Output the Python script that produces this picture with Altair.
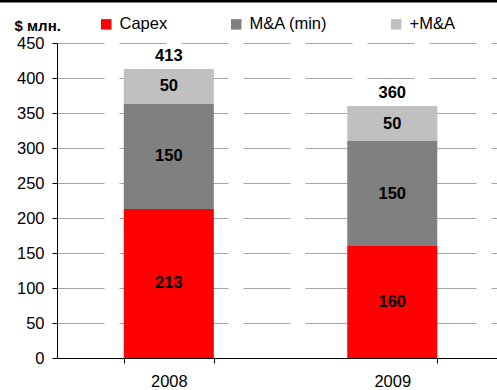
import altair as alt
import pandas as pd

years = ["2008", "2008", "2008", "2009", "2009", "2009"]
series = ["Capex", "M&A (min)", "+M&A", "Capex", "M&A (min)", "+M&A"]
values = [213, 150, 50, 160, 150, 50]
orders = [0, 1, 2, 0, 1, 2]

tot_years = ["2008", "2009"]
totals = [413, 360]

series_domain = ["Capex", "M&A (min)", "+M&A"]
series_colors = ["#FF0000", "#808080", "#C0C0C0"]
y_ticks = [0, 50, 100, 150, 200, 250, 300, 350, 400, 450]

FONT = "Liberation Sans"
FS = 16.5

df = pd.DataFrame({"year": years, "series": series, "value": values, "ord": orders})
tdf = pd.DataFrame({"year": tot_years, "total": totals})

xscale = alt.Scale(paddingInner=0.597, paddingOuter=0.283, align=0.528)
xaxis = alt.Axis(
    title=None, labelAngle=0, domainColor="black", tickColor="black", tickBand="extent",
    tickSize=5, labelFont=FONT, labelFontSize=FS, labelColor="black", labelPadding=10, grid=False)
yscale = alt.Scale(domain=[0, 450], nice=False)
yaxis = alt.Axis(values=y_ticks, labelOverlap=False, title="$ млн.", titleAngle=0, titleX=-43, titleY=-18,
                 titleAlign="left", titleBaseline="middle", titleFont=FONT, titleFontSize=15,
                 titleFontWeight="bold", titleColor="black",
                 labelFont=FONT, labelFontSize=FS, labelColor="black", labelPadding=8,
                 tickSize=5, tickColor="black", domainColor="black",
                 grid=True, gridColor="#A6A6A6", gridDash=[47, 15], gridWidth=1)

base = alt.Chart(df).transform_stack(
    stack="value", as_=["v0", "v1"], groupby=["year"], sort=[alt.SortField("ord")]
).transform_calculate(mid="(datum.v0 + datum.v1) / 2")

bars = base.mark_bar().encode(
    x=alt.X("year:N", scale=xscale, axis=xaxis),
    y=alt.Y("v0:Q", scale=yscale, axis=yaxis, title="$ млн."),
    y2="v1:Q",
    color=alt.Color("series:N", scale=alt.Scale(domain=series_domain, range=series_colors),
                    legend=alt.Legend(title=None, orient="none", direction="horizontal",
                                      legendX=41, legendY=-27, symbolType="square", symbolSize=110,
                                      symbolStrokeWidth=0, labelFont=FONT, labelFontSize=FS,
                                      labelColor="black", columnPadding=60, labelOffset=5)),
)

labels = base.mark_text(font=FONT, fontSize=FS, fontWeight="bold", color="black",
                        baseline="middle").encode(
    x=alt.X("year:N", scale=xscale, axis=xaxis),
    y=alt.Y("mid:Q", scale=yscale, axis=yaxis, title="$ млн."),
    text="value:Q",
)

tot = alt.Chart(tdf).mark_text(font=FONT, fontSize=FS, fontWeight="bold", color="black",
                               baseline="bottom", dy=-5).encode(
    x=alt.X("year:N", scale=xscale, axis=xaxis),
    y=alt.Y("total:Q", scale=yscale, axis=yaxis, title="$ млн."),
    text="total:Q",
)

topline = alt.Chart(pd.DataFrame({"a": [0]})).mark_rule(color="black", strokeWidth=2.5).encode(
    x=alt.value(-57), x2=alt.value(440), y=alt.value(-41.8))

chart = alt.layer(bars, labels, tot, topline).properties(
    width=440, height=315,
    padding={"left": 57, "top": 43, "right": 0, "bottom": 32},
    autosize=alt.AutoSizeParams(type="none"),
).configure_view(stroke=None)

chart.save("out.html", embed_options={"renderer": "svg", "actions": False})
